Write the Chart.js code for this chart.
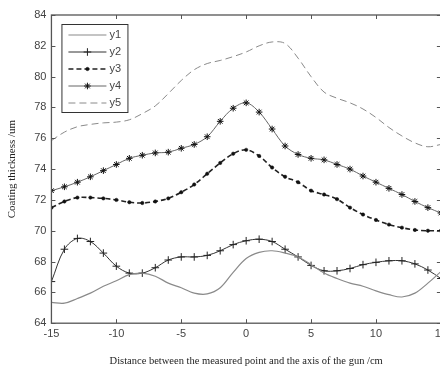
<!DOCTYPE html>
<html>
<head>
<meta charset="utf-8">
<script src="https://cdn.jsdelivr.net/npm/chart.js@4/dist/chart.umd.min.js"></script>
<style>
html,body{margin:0;padding:0;background:#fff;overflow:hidden;}
#wrap{position:relative;width:451px;height:370px;}
</style>
</head>
<body>
<div id="wrap"><canvas id="c"></canvas></div>
<script>
const positions = [-15,-14,-13,-12,-11,-10,-9,-8,-7,-6,-5,-4,-3,-2,-1,0,1,2,3,4,5,6,7,8,9,10,11,12,13,14,15];
const y1 = [65.35,65.3,65.6,65.95,66.4,66.75,67.15,67.25,67.05,66.6,66.3,65.95,65.9,66.3,67.3,68.2,68.6,68.7,68.55,68.3,67.8,67.26,66.9,66.6,66.4,66.1,65.85,65.7,65.95,66.6,67.35];
const y2 = [66.7,68.8,69.5,69.3,68.55,67.7,67.25,67.25,67.6,68.1,68.3,68.3,68.4,68.7,69.1,69.35,69.45,69.3,68.8,68.3,67.75,67.4,67.4,67.55,67.8,67.95,68.05,68.05,67.85,67.45,66.9];
const y3 = [71.5,71.9,72.15,72.15,72.1,72.0,71.85,71.8,71.9,72.1,72.5,73.0,73.7,74.4,75.0,75.25,74.85,74.1,73.5,73.15,72.6,72.35,72.05,71.5,71.05,70.7,70.4,70.2,70.05,70.0,70.0];
const y4 = [72.6,72.85,73.15,73.5,73.9,74.3,74.7,74.9,75.05,75.1,75.35,75.6,76.1,77.1,77.95,78.3,77.7,76.6,75.5,74.95,74.7,74.6,74.3,74.0,73.55,73.15,72.75,72.35,71.9,71.5,71.15];
const y5 = [75.85,76.4,76.75,76.9,77.0,77.05,77.2,77.6,78.1,78.9,79.75,80.45,80.85,81.05,81.3,81.6,82.0,82.25,82.15,81.2,80.0,79.0,78.6,78.3,77.9,77.35,76.7,76.15,75.7,75.45,75.6];
const seriesNames = ['y1','y2','y3','y4','y5'];
const xTicks = [-15,-10,-5,0,5,10,15];
const yTicks = [64,66,68,70,72,74,76,78,80,82,84];

const toPts = arr => arr.map((v,i)=>({x:positions[i], y:v}));

const styles = [
  {borderColor:'#8a8a8a', borderWidth:1.2, pointRadius:0, borderDash:[]},
  {borderColor:'#333', borderWidth:1, pointStyle:'cross', pointRadius:3.8, pointBorderColor:'#222', pointBorderWidth:1, borderDash:[]},
  {borderColor:'#222', borderWidth:1.6, pointStyle:'circle', pointRadius:1.7, pointBackgroundColor:'#111', pointBorderColor:'#111', pointBorderWidth:0.5, borderDash:[5,3]},
  {borderColor:'#666', borderWidth:1, pointStyle:'star', pointRadius:3.3, pointBorderColor:'#111', pointBorderWidth:1, borderDash:[]},
  {borderColor:'#8a8a8a', borderWidth:1, pointRadius:0, borderDash:[7,4]}
];
const allData = [y1,y2,y3,y4,y5];

const datasets = allData.map((d,i)=>Object.assign({
  label: seriesNames[i],
  data: toPts(d),
  fill:false,
  tension:0.35,
  backgroundColor:'transparent'
}, styles[i]));

const framePlugin = {
  id:'frame',
  afterDatasetsDraw(chart){
    const {ctx, chartArea:a, scales:{x,y}} = chart;
    ctx.save();
    ctx.strokeStyle = '#555';
    ctx.lineWidth = 1.3;
    ctx.strokeRect(a.left, a.top, a.right-a.left, a.bottom-a.top);
    ctx.lineWidth = 1;
    const tl = 4;
    xTicks.forEach(t=>{
      const px = Math.round(x.getPixelForValue(t))+0.5;
      ctx.beginPath();
      ctx.moveTo(px,a.bottom); ctx.lineTo(px,a.bottom-tl);
      ctx.moveTo(px,a.top); ctx.lineTo(px,a.top+tl);
      ctx.stroke();
    });
    yTicks.forEach(t=>{
      const py = Math.round(y.getPixelForValue(t))+0.5;
      ctx.beginPath();
      ctx.moveTo(a.left,py); ctx.lineTo(a.left+tl,py);
      ctx.moveTo(a.right,py); ctx.lineTo(a.right-tl,py);
      ctx.stroke();
    });
    // legend
    const lx = a.left+10, ly = a.top+9, lw = 66, lh = 88;
    ctx.fillStyle='#fff';
    ctx.fillRect(lx,ly,lw,lh);
    ctx.strokeStyle='#333';
    ctx.lineWidth=1;
    ctx.strokeRect(lx+0.5,ly+0.5,lw,lh);
    chart.data.datasets.forEach((ds,i)=>{
      const cy = ly + 11 + i*17;
      const x0 = lx+7, x1 = lx+45;
      ctx.save();
      ctx.strokeStyle = ds.borderColor;
      ctx.lineWidth = ds.borderWidth;
      ctx.setLineDash(ds.borderDash||[]);
      ctx.beginPath(); ctx.moveTo(x0,cy); ctx.lineTo(x1,cy); ctx.stroke();
      ctx.restore();
      if (ds.pointRadius>0){
        ctx.save();
        ctx.fillStyle = ds.pointBackgroundColor||ds.pointBorderColor;
        ctx.strokeStyle = ds.pointBorderColor;
        ctx.lineWidth = ds.pointBorderWidth;
        Chart.helpers.drawPoint(ctx,{pointStyle:ds.pointStyle, radius:ds.pointRadius, rotation:0, borderWidth:ds.pointBorderWidth},(x0+x1)/2,cy);
        ctx.restore();
      }
      ctx.fillStyle='#444';
      ctx.font='11px "Liberation Sans", Arial, sans-serif';
      ctx.textBaseline='middle';
      ctx.textAlign='left';
      ctx.fillText(ds.label, x1+3, cy);
    });
    ctx.restore();
  }
};

new Chart(document.getElementById('c'), {
  type:'line',
  data:{datasets},
  options:{
    responsive:true,
    maintainAspectRatio:false,
    animation:false,
    layout:{padding:{top:15,right:0,left:6,bottom:2}},
    plugins:{legend:{display:false}, tooltip:{enabled:false}},
    scales:{
      x:{
        type:'linear', min:-15, max:15,
        afterBuildTicks: s => { s.ticks = xTicks.map(v=>({value:v})); },
        grid:{display:false, drawTicks:false},
        border:{display:false},
        ticks:{color:'#444', font:{family:'"Liberation Sans", Arial, sans-serif', size:11}, padding:4, maxRotation:0, autoSkip:false},
        title:{display:true, text:'Distance between the measured point and the axis of the gun /cm', color:'#222', font:{family:'"Liberation Serif", "Times New Roman", serif', size:10.5}, padding:{top:11,bottom:0}}
      },
      y:{
        min:64, max:84,
        afterBuildTicks: s => { s.ticks = yTicks.map(v=>({value:v})); },
        grid:{display:false, drawTicks:false},
        border:{display:false},
        ticks:{color:'#444', font:{family:'"Liberation Sans", Arial, sans-serif', size:11}, padding:5, autoSkip:false},
        title:{display:true, text:'Coating thickness /um', color:'#222', font:{family:'"Liberation Serif", "Times New Roman", serif', size:11}, padding:{top:0,bottom:10}}
      }
    }
  },
  plugins:[framePlugin]
});
</script>
</body>
</html>
